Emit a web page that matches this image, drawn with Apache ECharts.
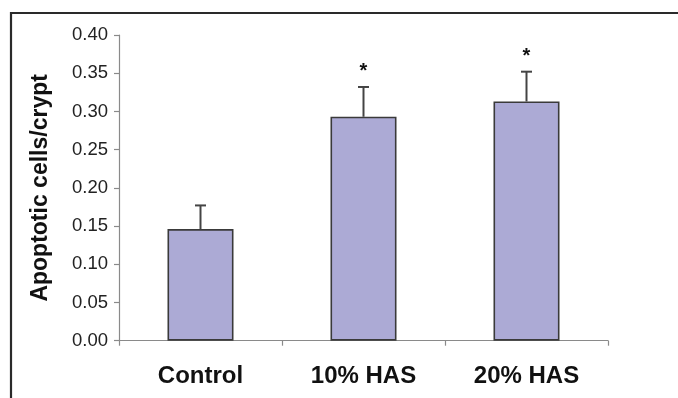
<!DOCTYPE html>
<html>
<head>
<meta charset="utf-8">
<script src="https://cdn.jsdelivr.net/npm/echarts@6/dist/echarts.min.js"></script>
<style>
html,body{margin:0;padding:0;background:#fff;}
#chart{width:678px;height:398px;}
</style>
</head>
<body>
<div id="chart"></div>
<script>
const categories = ['Control', '10% HAS', '20% HAS'];
const means = [0.146, 0.293, 0.313];
const errors = [0.031, 0.039, 0.039];
const marks = ['', '*', '*'];
const yMin = 0, yMax = 0.40, yStep = 0.05;
const yTitle = 'Apoptotic cells/crypt';

const FONT = 'Arial, "Liberation Sans", Helvetica, sans-serif';
const chart = echarts.init(document.getElementById('chart'), null, {renderer: 'canvas'});

const errData = categories.map((c, i) => [i, means[i], errors[i]]);

chart.setOption({
  animation: false,
  backgroundColor: '#fff',
  grid: {left: 119, right: 70, top: 35, bottom: 57.3, containLabel: false},
  graphic: [
    {type: 'line', shape: {x1: 11, y1: 13, x2: 678, y2: 13}, style: {stroke: '#2a2a2a', lineWidth: 2.2}, z: 100},
    {type: 'line', shape: {x1: 11, y1: 12, x2: 11, y2: 398}, style: {stroke: '#2a2a2a', lineWidth: 2.2}, z: 100}
  ],
  xAxis: {
    type: 'category',
    data: categories,
    axisLine: {show: true, lineStyle: {color: '#8a8a8a', width: 1.2}},
    axisTick: {show: true, alignWithLabel: false, length: 5, lineStyle: {color: '#8a8a8a', width: 1.2}},
    axisLabel: {color: '#111', fontFamily: FONT, fontSize: 24, fontWeight: 'bold', margin: 24}
  },
  yAxis: {
    type: 'value',
    min: yMin, max: yMax, interval: yStep,
    name: yTitle,
    nameLocation: 'middle',
    nameGap: 67,
    nameRotate: 90,
    nameTextStyle: {color: '#111', fontFamily: FONT, fontSize: 23, fontWeight: 'bold'},
    splitLine: {show: false},
    axisLine: {show: true, lineStyle: {color: '#8a8a8a', width: 1.2}},
    axisTick: {show: true, length: 5, lineStyle: {color: '#8a8a8a', width: 1.2}},
    axisLabel: {color: '#222', fontFamily: FONT, fontSize: 18.5, margin: 11, formatter: v => v.toFixed(2)}
  },
  series: [
    {
      type: 'bar',
      data: means,
      barWidth: '40.5%',
      itemStyle: {color: '#ACAAD5', borderColor: '#3a3a3a', borderWidth: 1.6},
      z: 2
    },
    {
      type: 'custom',
      data: errData,
      z: 3,
      renderItem: function (params, api) {
        const x = api.value(0), m = api.value(1), e = api.value(2);
        const mark = marks[params.dataIndex];
        const base = api.coord([x, m]);
        const top = api.coord([x, m + e]);
        const children = [
          {type: 'line', shape: {x1: base[0], y1: base[1], x2: top[0], y2: top[1]}, style: {stroke: '#444', lineWidth: 2}},
          {type: 'line', shape: {x1: top[0] - 5.5, y1: top[1], x2: top[0] + 5.5, y2: top[1]}, style: {stroke: '#444', lineWidth: 2}}
        ];
        if (mark) {
          children.push({type: 'text', style: {text: mark, x: top[0], y: top[1] - 15, textAlign: 'center', textVerticalAlign: 'middle', fill: '#111', font: 'bold 20px ' + FONT}});
        }
        return {type: 'group', children: children};
      }
    }
  ]
});
</script>
</body>
</html>
